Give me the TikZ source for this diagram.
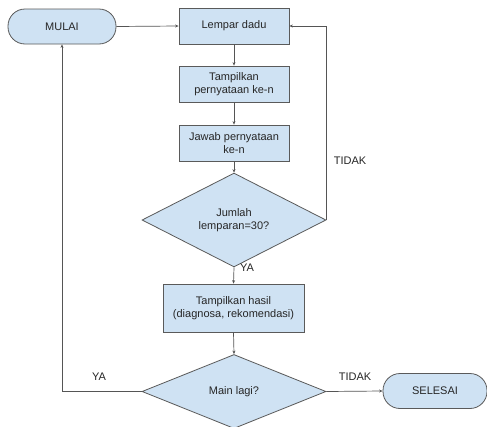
\documentclass[tikz,border=0pt]{standalone}
\usepackage{fontspec}
\setmainfont{Liberation Sans}
\usetikzlibrary{shapes.geometric,arrows.meta}
\definecolor{boxfill}{HTML}{CFE2F3}
\definecolor{boxline}{HTML}{5A5A5A}
\definecolor{lineclr}{HTML}{555555}
\begin{document}
\begin{tikzpicture}[x=1pt,y=-1pt,
  every node/.style={font=\fontsize{11}{13}\selectfont, text=black!85},
  procbox/.style={draw=boxline, fill=boxfill, line width=0.8pt, minimum width=110pt, minimum height=36pt, align=center, inner sep=2pt},
  termbox/.style={draw=boxline, fill=boxfill, line width=0.8pt, rounded corners=17pt, minimum height=35pt, align=center},
  decbox/.style={draw=boxline, fill=boxfill, line width=0.8pt, diamond, minimum width=184pt, minimum height=74pt, inner sep=0pt, align=center},
  conn/.style={draw=lineclr, line width=0.7pt, -{Stealth[length=3.5pt,width=3pt]}},
  lbl/.style={font=\fontsize{11}{13}\selectfont}]
\useasboundingbox[fill=white] (0,0) rectangle (487,426);
\node[termbox, minimum width=108pt] (mulai) at (62,26.5) {MULAI};
\node[procbox] (lempar) at (234,26) {Lempar dadu};
\node[procbox] (tampil) at (234,84) {Tampilkan\\pernyataan ke-n};
\node[procbox] (jawab) at (234,143) {Jawab pernyataan\\ke-n};
\node[decbox] (d1) at (234,220) {Jumlah\\lemparan=30?};
\node[procbox, minimum width=141pt, minimum height=48pt] (hasil) at (233.5,308) {Tampilkan hasil\\(diagnosa, rekomendasi)};
\node[decbox] (d2) at (234,391.5) {Main lagi?};
\node[termbox, minimum width=104pt] (selesai) at (435,391) {SELESAI};

\draw[conn] (mulai.east) -- (lempar.west);
\draw[conn] (lempar) -- (tampil);
\draw[conn] (tampil) -- (jawab);
\draw[conn] (jawab) -- (d1.north);
\draw[conn] (d1.south) -- (hasil.north);
\draw[conn] (hasil.south) -- (d2.north);
\draw[conn] (d1.east) -- (d1.east |- lempar.east) -- (lempar.east);
\draw[conn] (d2.west) -- (d2.west -| mulai.south) -- (mulai.south);
\draw[conn] (d2.east) -- (selesai.west);

\node[lbl] (t1) at (350,161) {TIDAK};
\node[lbl] (y1) at (247,268) {YA};
\node[lbl] (y2) at (99,377) {YA};
\node[lbl] (t2) at (355,377) {TIDAK};
\end{tikzpicture}
\end{document}
